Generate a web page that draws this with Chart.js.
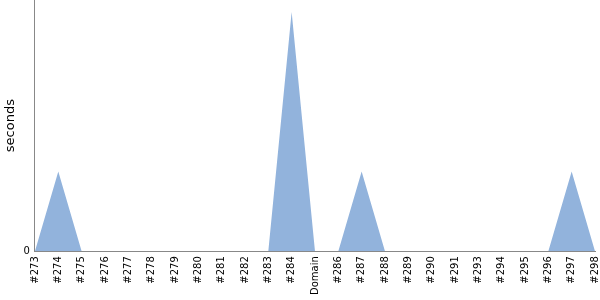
<!DOCTYPE html>
<html>
<head>
<meta charset="utf-8">
<script src="https://cdn.jsdelivr.net/npm/chart.js@4"></script>
<style>
  html, body { margin: 0; padding: 0; background: #fff; }
  #wrap { width: 600px; height: 300px; }
</style>
</head>
<body>
<div id="wrap"><canvas id="chart"></canvas></div>
<script>
// Build labels (#292 is missing, #285 shown as "Domain")
const categories = ['#273', '#274', '#275', '#276', '#277', '#278', '#279', '#280', '#281', '#282', '#283', '#284',
  'Domain', '#286', '#287', '#288', '#289', '#290', '#291', '#293', '#294', '#295', '#296', '#297', '#298'];
const seconds = [0, 1, 0, 0, 0, 0, 0, 0, 0, 0, 0, 3, 0, 0, 1, 0, 0, 0, 0, 0, 0, 0, 0, 1, 0];
const yTicks = [0];

Chart.defaults.font.family = 'DejaVu Sans';
Chart.defaults.color = '#000';

// scales add padding for their end labels; the reference has none
const noPad = axis => {
  axis.paddingTop = 0;
  axis.paddingBottom = 0;
  axis.paddingLeft = 0;
  axis.paddingRight = 0;
};

new Chart(document.getElementById('chart').getContext('2d'), {
  type: 'line',
  data: {
    labels: categories,
    datasets: [{
      data: seconds,
      fill: true,
      backgroundColor: '#92b3dc',
      borderWidth: 0,
      pointRadius: 0,
      pointHoverRadius: 0,
      tension: 0
    }]
  },
  options: {
    responsive: true,
    maintainAspectRatio: false,
    animation: false,
    layout: { autoPadding: false, padding: { top: 0, right: 5, left: 0, bottom: 0 } },
    plugins: { legend: { display: false }, tooltip: { enabled: false } },
    scales: {
      x: {
        offset: false,
        grid: { display: false, drawTicks: false },
        border: { color: '#888', width: 1 },
        ticks: { font: { size: 10 }, maxRotation: 90, minRotation: 90, autoSkip: false, padding: 5 },
        afterFit: noPad
      },
      y: {
        min: 0,
        max: 3.15,
        grid: { display: false, drawTicks: false },
        border: { color: '#888', width: 1 },
        afterBuildTicks: axis => { axis.ticks = yTicks.map(v => ({ value: v })); },
        ticks: { font: { size: 10 }, padding: 5 },
        title: { display: true, text: 'seconds', font: { size: 13 }, padding: { top: 3, bottom: 0 } },
        afterFit: noPad
      }
    }
  }
});
</script>
</body>
</html>
